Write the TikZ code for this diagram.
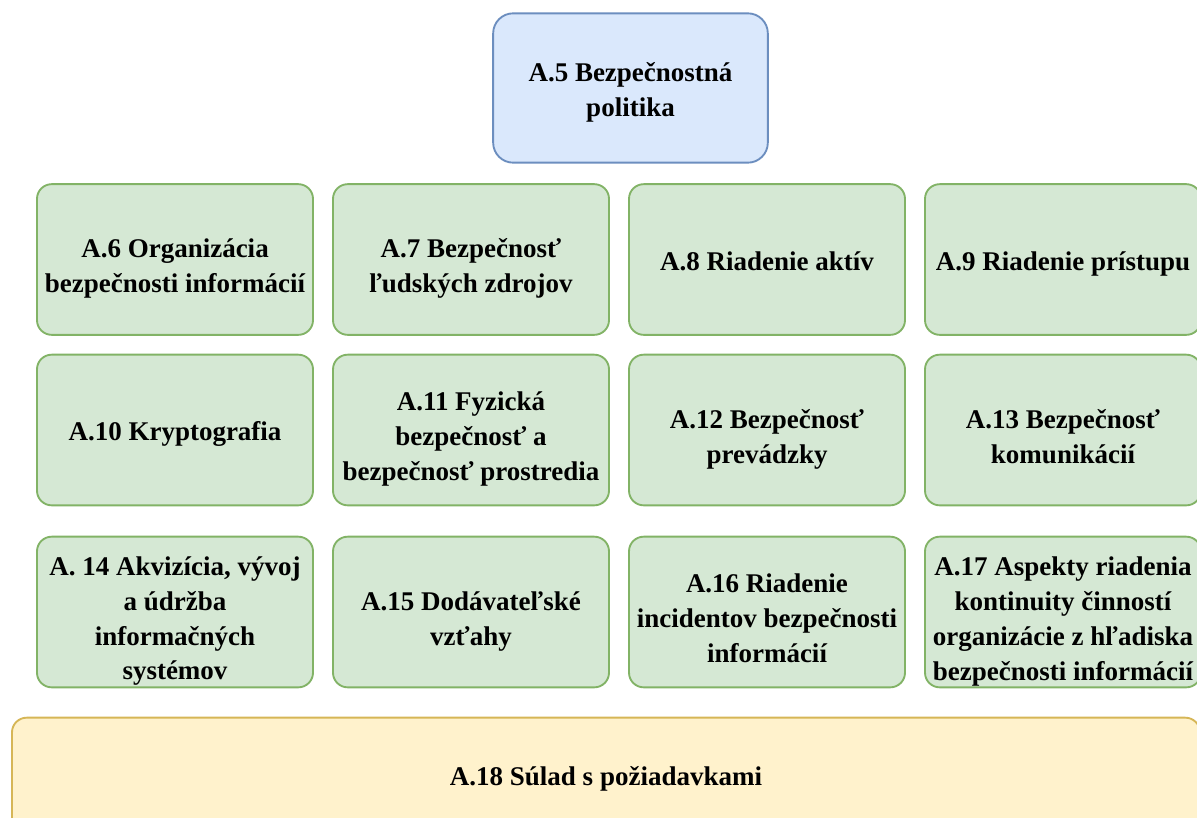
\documentclass[tikz,border=0pt]{standalone}
\usepackage{fontspec}
\setmainfont{Liberation Serif}[BoldFont={Liberation Serif Bold}]
\definecolor{bluefill}{HTML}{DAE8FC}
\definecolor{blueline}{HTML}{6C8EBF}
\definecolor{greenfill}{HTML}{D5E8D4}
\definecolor{greenline}{HTML}{82B366}
\definecolor{yellowfill}{HTML}{FFF2CC}
\definecolor{yellowline}{HTML}{D6B656}
% invisible struts: every line gets the same height and depth,
% the first line of a stacked label sits a little lower
\newcommand\lnstrut{\rule[-0.2em]{0pt}{1.2em}}
\newcommand\topstrut{\rule[-0.2em]{0pt}{1.57em}}
\tikzset{
  card/.style={rectangle, rounded corners=11pt, line width=1.4pt,
    minimum width=207pt, minimum height=113pt, inner sep=0pt,
    align=center, text=black,
    font=\bfseries\fontsize{20.25}{26.2}\selectfont},
  policy/.style={card, fill=bluefill, draw=blueline, rounded corners=15pt,
    minimum width=206pt, minimum height=112pt},
  control/.style={card, fill=greenfill, draw=greenline},
  compliance/.style={card, fill=yellowfill, draw=yellowline,
    minimum width=891pt, minimum height=86pt}
}
\begin{document}
\begin{tikzpicture}[x=0.75pt,y=-0.75pt]
\useasboundingbox (0,0) rectangle (1197,818);
\clip (0,0) rectangle (1197,818);
\fill[white] (0,0) rectangle (1197,818);

% security policy on top
\node[policy] (a5) at (630.5,88) {\lnstrut A.5 Bezpečnostná\\\lnstrut politika};

% first row of controls
\node[control] (a6) at (175,259.5) {\topstrut A.6 Organizácia\\\lnstrut bezpečnosti informácií};
\node[control] (a7) at (471,259.5) {\topstrut A.7 Bezpečnosť\\\lnstrut ľudských zdrojov};
\node[control] (a8) at (767,259.5) {\lnstrut A.8 Riadenie aktív};
\node[control] (a9) at (1063,259.5) {\lnstrut A.9 Riadenie prístupu};

% second row
\node[control] (a10) at (175,430) {\lnstrut A.10 Kryptografia};
\node[control] (a11) at (471,430) {\topstrut A.11 Fyzická\\\lnstrut bezpečnosť a\\\lnstrut bezpečnosť prostredia};
\node[control] (a12) at (767,430) {\topstrut A.12 Bezpečnosť\\\lnstrut prevádzky};
\node[control] (a13) at (1063,430) {\topstrut A.13 Bezpečnosť\\\lnstrut komunikácií};

% third row
\node[control] (a14) at (175,612) {\topstrut A. 14 Akvizícia, vývoj\\\lnstrut a údržba\\\lnstrut informačných\\\lnstrut systémov};
\node[control] (a15) at (471,612) {\topstrut A.15 Dodávateľské\\\lnstrut vzťahy};
\node[control] (a16) at (767,612) {\topstrut A.16 Riadenie\\\lnstrut incidentov bezpečnosti\\\lnstrut informácií};
\node[control] (a17) at (1063,612) {\topstrut A.17 Aspekty riadenia\\\lnstrut kontinuity činností\\\lnstrut organizácie z hľadiska\\\lnstrut bezpečnosti informácií};

% compliance band along the bottom
\node[compliance] (a18) at (606,775) {\lnstrut A.18 Súlad s požiadavkami};
\end{tikzpicture}
\end{document}
